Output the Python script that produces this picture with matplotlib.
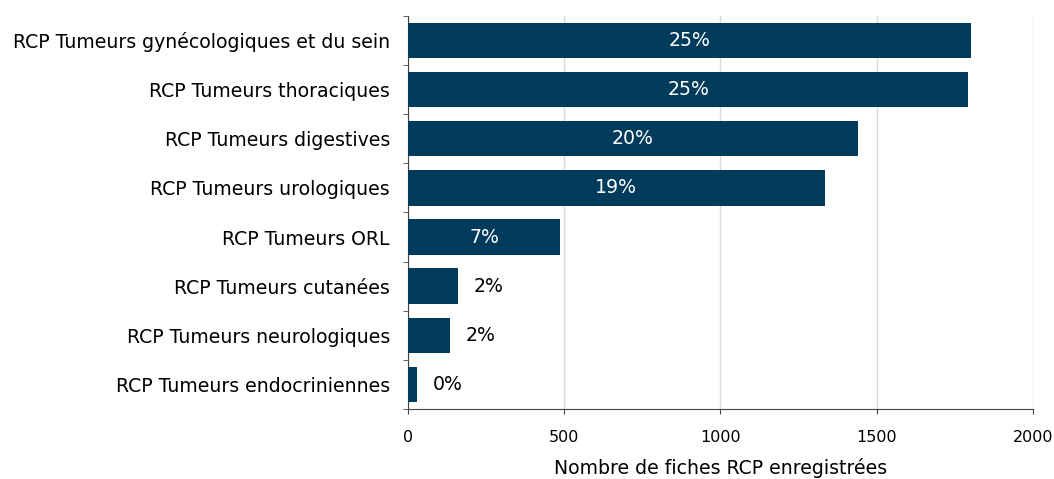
import matplotlib.pyplot as plt
import numpy as np

plt.rcParams['font.family'] = ['DejaVu Sans']

# Categories (top to bottom) and values
categories = ['RCP Tumeurs gynécologiques et du sein', 'RCP Tumeurs thoraciques',
              'RCP Tumeurs digestives', 'RCP Tumeurs urologiques', 'RCP Tumeurs ORL',
              'RCP Tumeurs cutanées', 'RCP Tumeurs neurologiques', 'RCP Tumeurs endocriniennes']
counts = [1802, 1793, 1440, 1334, 487, 160, 134, 29]
pct_labels = ['25%', '25%', '20%', '19%', '7%', '2%', '2%', '0%']
inside = [True, True, True, True, True, False, False, False]
xticks = [0, 500, 1000, 1500, 2000]

fs = 13.6

fig = plt.figure(figsize=(10.54, 4.79), dpi=100)
ax = fig.add_axes([0.387, 0.146, 0.593, 0.821])

y = np.arange(len(categories))
bars = ax.barh(y, counts, height=0.72, color='#003B5C', zorder=3)

for b, lab, ins in zip(bars, pct_labels, inside):
    yc = b.get_y() + b.get_height() / 2
    if ins:
        ax.text(b.get_width() / 2, yc, lab, ha='center', va='center',
                color='white', fontsize=fs, zorder=4)
    else:
        ax.annotate(lab, (b.get_width(), yc), xytext=(11.5, 0), textcoords='offset points',
                    ha='left', va='center', color='black', fontsize=fs)

ax.set_xlim(0, 2000)
ax.set_ylim(len(categories) - 0.5, -0.5)
ax.set_xticks(xticks)
ax.set_yticks(y)
ax.set_yticklabels(categories, fontsize=fs)
ax.set_yticks(np.arange(-0.5, len(categories), 1), minor=True)
ax.tick_params(axis='y', which='major', length=0, pad=13)
ax.tick_params(axis='y', which='minor', length=3.6, color='#444444')
ax.tick_params(axis='x', labelsize=11.5, length=3.6, pad=11.5, color='#444444')
ax.set_xlabel('Nombre de fiches RCP enregistrées', fontsize=fs, labelpad=9.5)
ax.xaxis.grid(True, color='#d9d9d9', linewidth=1, zorder=0)

for s in ['top', 'right']:
    ax.spines[s].set_visible(False)
ax.spines['left'].set_color('#444444')
ax.spines['bottom'].set_color('#444444')

fig.savefig('out.png', dpi=100)
